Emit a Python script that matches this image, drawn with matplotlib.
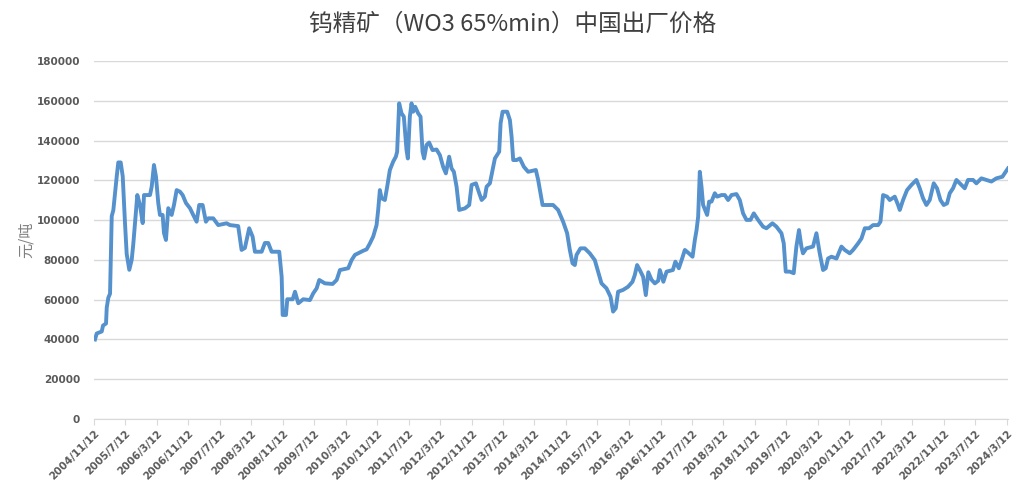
import numpy as np
import pandas as pd
import matplotlib
matplotlib.use("Agg")
import matplotlib.pyplot as plt

plt.rcParams['font.family'] = ['Noto Sans CJK SC', 'DejaVu Sans']

# time as decimal year, price in yuan/ton
years = [
    2004.885, 2004.921, 2005.027, 2005.055, 2005.118, 2005.133, 2005.167, 2005.203, 2005.239, 2005.273,
    2005.345, 2005.378, 2005.429, 2005.472, 2005.520, 2005.556, 2005.611, 2005.662, 2005.696, 2005.732,
    2005.781, 2005.838, 2005.895, 2005.923, 2006.050, 2006.086, 2006.134, 2006.177, 2006.225, 2006.261,
    2006.318, 2006.346, 2006.388, 2006.437, 2006.509, 2006.558, 2006.615, 2006.685, 2006.742, 2006.812,
    2006.897, 2006.966, 2007.038, 2007.093, 2007.165, 2007.235, 2007.284, 2007.390, 2007.496, 2007.674,
    2007.743, 2007.919, 2007.991, 2008.061, 2008.152, 2008.224, 2008.273, 2008.415, 2008.484, 2008.554,
    2008.626, 2008.787, 2008.838, 2008.859, 2008.929, 2008.957, 2009.071, 2009.120, 2009.190, 2009.295,
    2009.437, 2009.507, 2009.579, 2009.634, 2009.755, 2009.918, 2010.003, 2010.072, 2010.248, 2010.320,
    2010.390, 2010.566, 2010.638, 2010.708, 2010.777, 2010.849, 2010.883, 2010.919, 2010.955, 2011.025,
    2011.074, 2011.131, 2011.201, 2011.258, 2011.285, 2011.328, 2011.378, 2011.427, 2011.484, 2011.512,
    2011.554, 2011.590, 2011.624, 2011.667, 2011.730, 2011.781, 2011.823, 2011.857, 2011.908, 2011.963,
    2012.035, 2012.120, 2012.190, 2012.259, 2012.317, 2012.386, 2012.437, 2012.486, 2012.543, 2012.598,
    2012.719, 2012.810, 2012.861, 2012.952, 2013.022, 2013.073, 2013.142, 2013.178, 2013.248, 2013.305,
    2013.354, 2013.445, 2013.475, 2013.517, 2013.615, 2013.672, 2013.708, 2013.742, 2013.814, 2013.883,
    2013.968, 2014.059, 2014.222, 2014.271, 2014.364, 2014.588, 2014.694, 2014.800, 2014.885, 2014.942,
    2014.999, 2015.048, 2015.084, 2015.168, 2015.259, 2015.365, 2015.471, 2015.541, 2015.613, 2015.719,
    2015.804, 2015.859, 2015.916, 2015.965, 2016.070, 2016.176, 2016.269, 2016.318, 2016.367, 2016.424,
    2016.494, 2016.551, 2016.604, 2016.672, 2016.742, 2016.812, 2016.848, 2016.922, 2016.990, 2017.123,
    2017.176, 2017.250, 2017.324, 2017.377, 2017.462, 2017.540, 2017.589, 2017.625, 2017.659, 2017.694,
    2017.730, 2017.764, 2017.821, 2017.849, 2017.891, 2017.942, 2018.012, 2018.061, 2018.154, 2018.224,
    2018.294, 2018.366, 2018.471, 2018.541, 2018.611, 2018.683, 2018.768, 2018.838, 2018.929, 2019.035,
    2019.106, 2019.233, 2019.318, 2019.424, 2019.473, 2019.515, 2019.600, 2019.684, 2019.741, 2019.796,
    2019.847, 2019.881, 2019.953, 2020.093, 2020.165, 2020.235, 2020.305, 2020.362, 2020.411, 2020.483,
    2020.589, 2020.694, 2020.764, 2020.870, 2020.940, 2021.046, 2021.118, 2021.188, 2021.279, 2021.364,
    2021.470, 2021.520, 2021.575, 2021.660, 2021.717, 2021.823, 2021.893, 2021.929, 2021.999, 2022.083,
    2022.177, 2022.282, 2022.352, 2022.422, 2022.494, 2022.564, 2022.649, 2022.719, 2022.791, 2022.861,
    2022.931, 2022.988, 2023.058, 2023.130, 2023.200, 2023.306, 2023.376, 2023.482, 2023.553, 2023.659,
    2023.765, 2023.871, 2023.976, 2024.103, 2024.222,
]
prices = [
    40000, 43000, 44000, 47000, 48000, 56000, 61000, 63000, 102000, 105000,
    122000, 129000, 129000, 122000, 98500, 83000, 75000, 80000, 88000, 98500,
    112600, 107600, 98500, 112600, 112600, 116800, 127700, 121800, 108600, 102600,
    102600, 93500, 90000, 106000, 102600, 107600, 115100, 114300, 112600, 108600,
    106000, 102600, 99200, 107600, 107600, 99200, 100900, 100900, 97500, 98400,
    97500, 97000, 85000, 86000, 95900, 91700, 84100, 84100, 88500, 88500,
    84100, 84100, 71500, 52300, 52300, 60200, 60200, 64000, 58200, 60200,
    59800, 63200, 65700, 69900, 68200, 67900, 69900, 74900, 75800, 79900,
    82500, 84600, 85300, 88300, 91700, 97500, 105100, 115100, 111000, 110100,
    116800, 125200, 129400, 131900, 134400, 158700, 153700, 152000, 135200, 131000,
    152000, 158700, 154500, 157000, 153700, 152000, 134400, 131000, 137800, 139000,
    135200, 135500, 132700, 126800, 123500, 131900, 126000, 124300, 116800, 105100,
    105900, 107600, 117700, 118500, 113500, 110100, 111800, 116800, 118500, 125200,
    131000, 134400, 148700, 154500, 154500, 150300, 141900, 130200, 130200, 131000,
    126800, 124300, 125200, 120200, 107600, 107600, 105100, 99200, 93400, 85000,
    78300, 77400, 82500, 85800, 85800, 83300, 79900, 74100, 68200, 65700,
    61500, 54000, 55700, 64000, 64900, 66500, 69000, 72400, 77400, 74900,
    71500, 62300, 73800, 70000, 68200, 69500, 74900, 69000, 74100, 74900,
    79100, 75800, 81000, 85000, 83300, 81600, 90000, 95000, 101700, 124300,
    116800, 107600, 104200, 102600, 109300, 109300, 113500, 111800, 112600, 112600,
    110100, 112600, 113100, 110100, 103400, 100100, 100100, 103400, 100100, 96700,
    95900, 98400, 96700, 93400, 88300, 74100, 74100, 73300, 86700, 95000,
    86700, 83300, 85800, 86700, 93400, 83300, 74900, 75800, 80700, 81600,
    80700, 86700, 85000, 83300, 85000, 88300, 90800, 95900, 95900, 97500,
    97500, 99200, 112600, 111800, 110100, 111800, 107600, 105100, 110100, 115100,
    117700, 120200, 116000, 111000, 107600, 110100, 118500, 116000, 110100, 107600,
    108400, 113500, 116000, 120200, 118500, 116000, 120200, 120200, 118500, 121000,
    120200, 119400, 121000, 121800, 126000,
]

tick_labels = [
    "2004/11/12", "2005/7/12", "2006/3/12", "2006/11/12", "2007/7/12", "2008/3/12",
    "2008/11/12", "2009/7/12", "2010/3/12", "2010/11/12", "2011/7/12", "2012/3/12",
    "2012/11/12", "2013/7/12", "2014/3/12", "2014/11/12", "2015/7/12", "2016/3/12",
    "2016/11/12", "2017/7/12", "2018/3/12", "2018/11/12", "2019/7/12", "2020/3/12",
    "2020/11/12", "2021/7/12", "2022/3/12", "2022/11/12", "2023/7/12", "2024/3/12",
]


def to_date(y):
    yr = int(y)
    start = pd.Timestamp(year=yr, month=1, day=1)
    end = pd.Timestamp(year=yr + 1, month=1, day=1)
    return start + (end - start) * (y - yr)


dates = [to_date(y) for y in years]
tick_pos = pd.to_datetime(tick_labels, format="%Y/%m/%d")

fig = plt.figure(figsize=(10.25, 5), dpi=100)
ax = fig.add_axes([0.0917, 0.162, 0.8917, 0.716])

ax.plot(dates, prices, color='#5591cc', linewidth=2.8, solid_joinstyle='round')

ax.set_ylim(0, 180000)
ax.set_yticks(np.arange(0, 180001, 20000))
ax.set_xlim(tick_pos[0], dates[-1])
ax.set_xticks(tick_pos)
ax.set_xticklabels(tick_labels, rotation=45, ha='right', rotation_mode='anchor')

ax.grid(axis='y', color='#d9d9d9', linewidth=1)
ax.set_axisbelow(True)
for s in ['top', 'right', 'left']:
    ax.spines[s].set_visible(False)
ax.spines['bottom'].set_color('#d9d9d9')
ax.tick_params(axis='y', length=0, pad=10, labelsize=7.5, labelcolor='#595959')
ax.tick_params(axis='x', length=4, color='#d9d9d9', pad=3, labelsize=7.5, labelcolor='#595959')
for lbl in ax.get_yticklabels() + ax.get_xticklabels():
    lbl.set_fontweight('bold')
    lbl.set_family('DejaVu Sans')

ax.set_ylabel('元/吨', color='#7f7f7f', fontsize=11, labelpad=1)
fig.suptitle('钨精矿（WO3 65%min）中国出厂价格', x=0.5, y=0.975, fontsize=17, color='#404040')

fig.savefig('out.png', dpi=100)
